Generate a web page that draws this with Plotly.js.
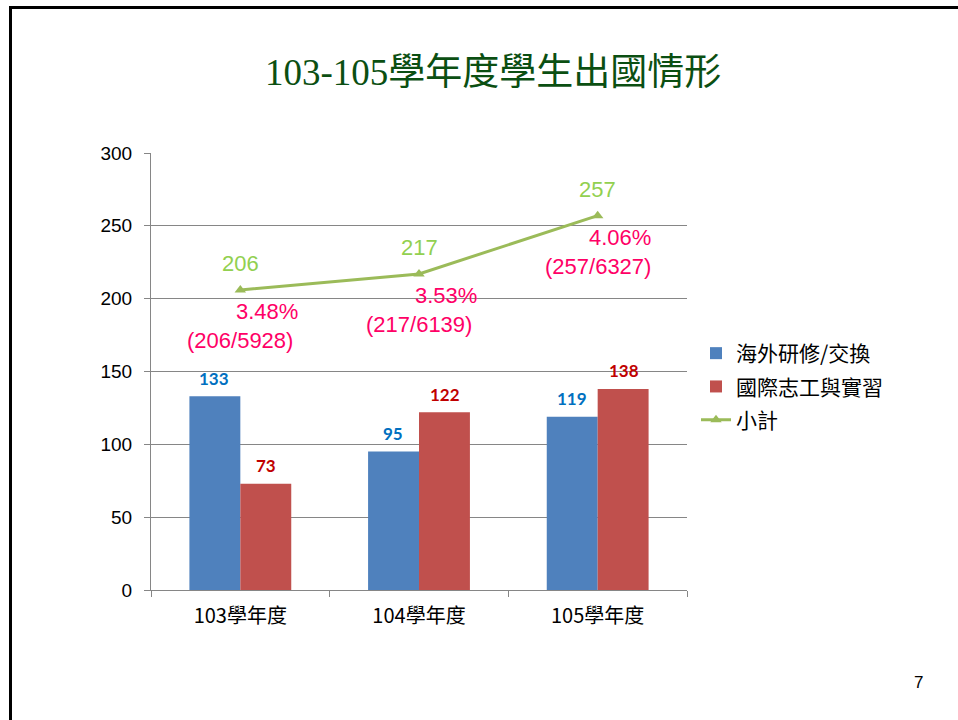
<!DOCTYPE html>
<html><head><meta charset="utf-8">
<script src="https://cdn.plot.ly/plotly-3.0.1.min.js"></script>
<style>html,body{margin:0;padding:0;background:#fff;}#chart{width:958px;height:720px;}</style>
</head><body><div id="chart"></div>
<script>
const categories = ["103學年度", "104學年度", "105學年度"];
const exchange = [133, 95, 119];
const intern = [73, 122, 138];
const subtotal = [206, 217, 257];
const pctLabels = ["3.48%", "3.53%", "4.06%"];
const ratioLabels = ["(206/5928)", "(217/6139)", "(257/6327)"];
const seriesNames = ["海外研修/交換", "國際志工與實習", "小計"];
const yTicks = [0, 50, 100, 150, 200, 250, 300];

const cjk = "'Noto Sans CJK TC', 'Liberation Sans', sans-serif";
const lab = "Lato, 'Liberation Sans', sans-serif";

const traces = [
  {type: 'bar', name: seriesNames[0], legendgroup: 'a', x: categories, y: exchange, marker: {color: '#4f81bd'}, hoverinfo: 'y'},
  {type: 'bar', name: seriesNames[1], legendgroup: 'b', x: categories, y: intern, marker: {color: '#c0504d'}, hoverinfo: 'y'},
  {type: 'scatter', mode: 'lines+markers', name: seriesNames[2], legendgroup: 'c', x: categories, y: subtotal,
   line: {color: '#9bbb59', width: 3}, marker: {symbol: 'triangle-up', size: 10, color: '#9bbb59'}}
];

const ann = [];
categories.forEach((c, i) => {
  ann.push({x: c, y: exchange[i], text: String(exchange[i]), showarrow: false, xshift: -26, yshift: 18,
    font: {family: lab, size: 17, color: '#0070c0', weight: 'bold'}});
  ann.push({x: c, y: intern[i], text: String(intern[i]), showarrow: false, xshift: 26, yshift: 18,
    font: {family: lab, size: 17, color: '#c00000', weight: 'bold'}});
  ann.push({x: c, y: subtotal[i], text: String(subtotal[i]), showarrow: false, xshift: 0, yshift: 26,
    font: {family: "'Liberation Sans', sans-serif", size: 22, color: '#92d050'}});
  ann.push({x: c, y: subtotal[i], text: pctLabels[i], showarrow: false, xshift: i === 2 ? 22 : 27, yshift: -22,
    font: {family: "'Liberation Sans', sans-serif", size: 22, color: '#ff0066'}});
  ann.push({x: c, y: subtotal[i], text: ratioLabels[i], showarrow: false, xshift: 0, yshift: -51,
    font: {family: "'Liberation Sans', sans-serif", size: 22, color: '#ff0066'}});
});
ann.push({xref: 'paper', yref: 'paper', x: (493-151)/536, y: (590-73)/437, xanchor: 'center', yanchor: 'middle',
  text: '103-105學年度學生出國情形',
  showarrow: false, font: {family: "'Liberation Serif', 'Noto Sans CJK TC', serif", size: 37, color: '#0b4f12'}});
ann.push({xref: 'paper', yref: 'paper', x: (918-151)/536, y: (590-682)/437, xanchor: 'center', yanchor: 'middle',
  text: '7', showarrow: false, font: {family: "'Liberation Sans', sans-serif", size: 17, color: '#000'}});

const layout = {
  width: 958, height: 720,
  margin: {l: 151, r: 271, t: 153, b: 130},
  paper_bgcolor: '#fff', plot_bgcolor: '#fff',
  barmode: 'group', bargap: 0.43, bargroupgap: 0,
  showlegend: true,
  legend: {x: (696-151)/536, y: (590-333)/437, xanchor: 'left', yanchor: 'top',
    font: {family: cjk, size: 21, color: '#000'}, tracegroupgap: 3, itemwidth: 30,
    bgcolor: 'rgba(0,0,0,0)'},
  xaxis: {type: 'category', tickson: 'boundaries', ticks: 'outside', ticklen: 6, tickcolor: '#868686',
    showline: true, linecolor: '#868686', linewidth: 1, showgrid: false, ticklabelstandoff: 8,
    tickfont: {family: cjk, size: 20, color: '#000'}, range: [-0.5, 2.5], fixedrange: true},
  yaxis: {range: [0, 300], tickvals: yTicks, ticks: 'outside', ticklen: 6, tickcolor: '#868686',
    showline: true, linecolor: '#868686', linewidth: 1, showgrid: true, gridcolor: '#868686', gridwidth: 1,
    zeroline: false, tickfont: {family: "'Liberation Sans', sans-serif", size: 19, color: '#000'}, ticklabelstandoff: 8},
  annotations: ann,
  shapes: [
    {type: 'line', xref: 'paper', yref: 'paper', x0: (10-151)/536, x1: (960-151)/536, y0: (590-7.5)/437, y1: (590-7.5)/437,
      line: {color: '#000', width: 3}},
    {type: 'line', xref: 'paper', yref: 'paper', x0: (10.5-151)/536, x1: (10.5-151)/536, y0: (590-6)/437, y1: (590-725)/437,
      line: {color: '#000', width: 3}}
  ]
};
Plotly.newPlot('chart', traces, layout, {displayModeBar: false, staticPlot: true});
</script></body></html>
